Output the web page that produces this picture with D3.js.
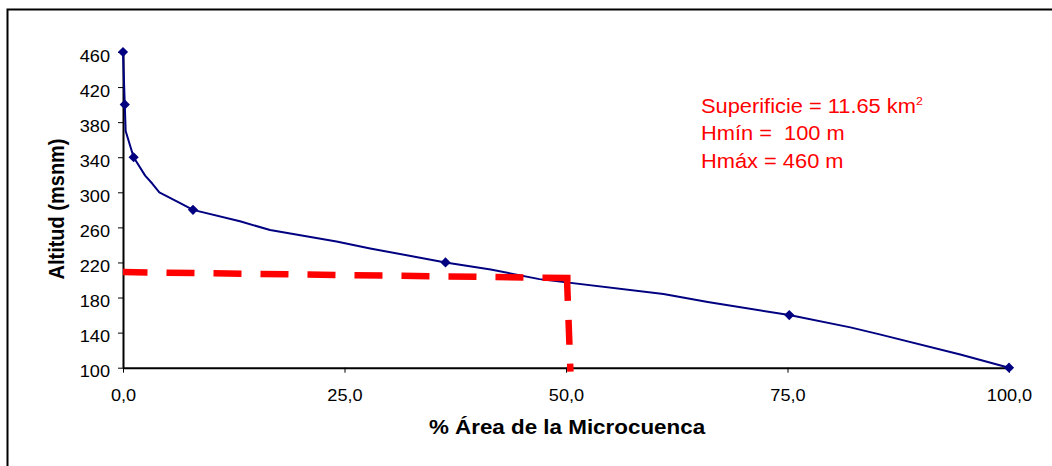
<!DOCTYPE html>
<html>
<head>
<meta charset="utf-8">
<script src="https://cdn.jsdelivr.net/npm/d3@7"></script>
<style>
  html, body { margin: 0; padding: 0; background: #fff; }
  svg { display: block; }
  text { font-family: "Liberation Sans", Arial, sans-serif; }
</style>
</head>
<body>
<svg id="chart" width="1052" height="466"></svg>
<script>
// ---- data ----
const areaPct  = [0, 0.2, 0.3, 1.2, 2.5, 3.3, 4.1, 6.4, 7.9, 13.2, 16.6, 24.1, 27.9, 36.4, 41.5, 47.0, 61.0, 66.0, 75.2, 82.1, 85.4, 94.5, 100];
const altitude = [460, 400, 370, 340, 319, 310, 300, 288, 280, 267, 257, 244, 236, 220, 212, 201, 184, 175, 160, 146, 138, 115, 100];

const markerPct = [0, 0.2, 1.2, 7.9, 36.4, 75.2, 100];
const markerAlt = [460, 400, 340, 280, 220, 160, 100];

const refHPct = [0, 50.6];
const refHAlt = [209, 202.2];
const refVPct = [50.1, 50.5];
const refVAlt = [204.8, 95.4];

const xTicks = [0, 25, 50, 75, 100];
const yTicks = [100, 140, 180, 220, 260, 300, 340, 380, 420, 460];

const xTitle = "% Área de la Microcuenca";
const yTitle = "Altitud (msnm)";
const notes = ["Superificie = 11.65 km", "Hmín =  100 m", "Hmáx = 460 m"];

// ---- chart ----
const svg = d3.select("#chart");
const x = d3.scaleLinear().domain([0, 100]).range([123, 1009]);
const y = d3.scaleLinear().domain([100, 460]).range([367.7, 52]);
const fmt = d => d3.format(".1f")(d).replace(".", ",");

// outer border
svg.append("rect")
  .attr("x", 7.5).attr("y", 9.5).attr("width", 1100).attr("height", 500)
  .attr("fill", "none").attr("stroke", "#000").attr("stroke-width", 2);

// axes
const xAxis = svg.append("g")
  .attr("transform", `translate(0,${y(100)})`)
  .call(d3.axisBottom(x).tickValues(xTicks).tickFormat(fmt).tickSize(5).tickSizeOuter(0));
const yAxis = svg.append("g")
  .attr("transform", `translate(${x(0)},0)`)
  .call(d3.axisLeft(y).tickValues(yTicks).tickFormat(d3.format("d")).tickSize(5).tickSizeOuter(0));

[xAxis, yAxis].forEach(g => {
  g.select(".domain").attr("stroke", "#000").attr("stroke-width", 2);
  g.selectAll(".tick line").attr("stroke", "#000").attr("stroke-width", 1);
  g.selectAll(".tick text").attr("fill", "#000").style("font-size", "16.5px");
});
xAxis.selectAll(".tick text").attr("y", 33).attr("dy", 0)
  .attr("transform", "scale(1.1,1)");
yAxis.selectAll(".tick text").attr("x", -11.8).attr("y", 9).attr("dy", 0)
  .attr("transform", "scale(1.1,1)");

// curve
const line = d3.line().x(d => x(d[0])).y(d => y(d[1]));
svg.append("path")
  .datum(areaPct.map((p, i) => [p, altitude[i]]))
  .attr("d", line)
  .attr("fill", "none").attr("stroke", "#000080").attr("stroke-width", 2)
  .attr("stroke-linejoin", "round");

// markers
svg.selectAll(".mk")
  .data(markerPct.map((p, i) => [p, markerAlt[i]]))
  .enter().append("path")
  .attr("class", "mk")
  .attr("d", d3.symbol(d3.symbolSquare, 52))
  .attr("transform", d => `translate(${x(d[0])},${y(d[1])}) rotate(45)`)
  .attr("fill", "#000080");

// red dashed reference lines
svg.append("path")
  .datum(refHPct.map((p, i) => [p, refHAlt[i]]))
  .attr("d", line)
  .attr("fill", "none").attr("stroke", "#ff0000").attr("stroke-width", 6.5)
  .attr("stroke-dasharray", "28,19").attr("stroke-dashoffset", 3.5);
svg.append("path")
  .datum(refVPct.map((p, i) => [p, refVAlt[i]]))
  .attr("d", line)
  .attr("fill", "none").attr("stroke", "#ff0000").attr("stroke-width", 6.5)
  .attr("stroke-dasharray", "25,19");

// axis titles
svg.append("text")
  .attr("transform", `translate(567,434) scale(1.12,1)`)
  .attr("text-anchor", "middle")
  .style("font-size", "20px").style("font-weight", "bold")
  .attr("fill", "#000")
  .text(xTitle);
svg.append("text")
  .attr("transform", `translate(64,209) scale(1.1,1) rotate(-90)`)
  .attr("text-anchor", "middle")
  .style("font-size", "20px").style("font-weight", "bold")
  .attr("fill", "#000")
  .text(yTitle);

// annotation
const noteBase = [112.5, 140, 167.5];
notes.forEach((t, i) => {
  const tx = svg.append("text")
    .attr("transform", `translate(701,${noteBase[i]}) scale(1.12,1)`)
    .style("font-size", "19.5px").style("white-space", "pre")
    .attr("fill", "#ff0000")
    .text(t);
  if (i === 0) {
    tx.append("tspan").attr("dy", -8).style("font-size", "11px").text("2");
  }
});
</script>
</body>
</html>
